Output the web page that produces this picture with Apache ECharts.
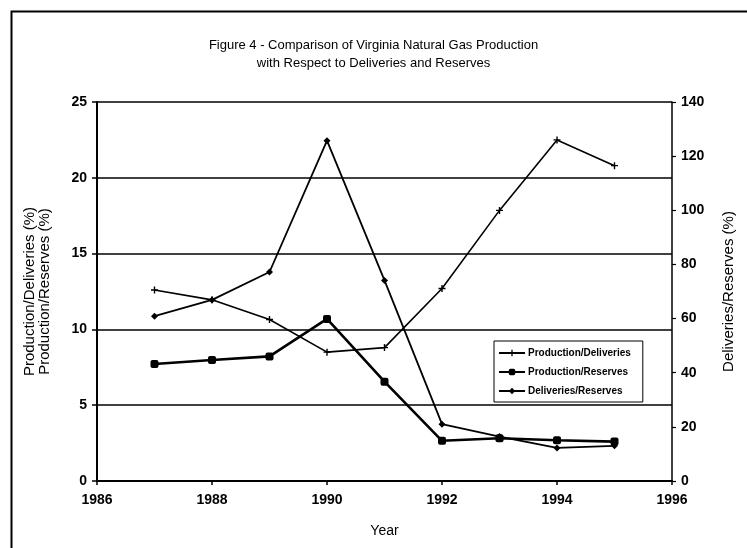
<!DOCTYPE html>
<html>
<head>
<meta charset="utf-8">
<script src="https://cdn.jsdelivr.net/npm/echarts@6/dist/echarts.min.js"></script>
<style>
  html, body { margin: 0; padding: 0; background: #fff; }
  #chart { width: 747px; height: 548px; }
</style>
</head>
<body>
<div id="chart"></div>
<script>
// years on the x axis
var years = [1987, 1988, 1989, 1990, 1991, 1992, 1993, 1994, 1995];
// left axis (%)
var prodDeliveries = [12.6, 11.95, 10.65, 8.5, 8.8, 12.7, 17.85, 22.5, 20.8];
var prodReserves = [7.72, 7.98, 8.22, 10.69, 6.55, 2.65, 2.82, 2.69, 2.6];
// right axis (%)
var delivReserves = [60.9, 66.9, 77.2, 125.7, 74.1, 21, 16.4, 12.2, 13.0];

var seriesNames = ['Production/Deliveries', 'Production/Reserves', 'Deliveries/Reserves'];

function pairs(vals) {
  return years.map(function (y, i) { return [y, vals[i]]; });
}

var font = 'Liberation Sans, Arial, sans-serif';
var plus = 'path://M4,0H6V4H10V6H6V10H4V6H0V4H4Z';

var chart = echarts.init(document.getElementById('chart'));
chart.setOption({
  backgroundColor: '#fff',
  animation: false,
  textStyle: { fontFamily: font, color: '#000' },
  title: {
    text: 'Figure 4 - Comparison of Virginia Natural Gas Production\nwith Respect to Deliveries and Reserves',
    left: 'center',
    top: 31,
    textStyle: { fontFamily: font, fontSize: 13, fontWeight: 'normal', color: '#000', lineHeight: 18 }
  },
  graphic: [{
    type: 'rect',
    left: 9, top: 9,
    shape: { width: 760, height: 560 },
    style: { fill: 'none', stroke: '#000', lineWidth: 2 },
    silent: true
  }],
  legend: {
    data: seriesNames,
    orient: 'vertical',
    left: 494,
    top: 341,
    itemWidth: 26,
    itemHeight: 8,
    itemGap: 9,
    padding: [7, 12, 6, 4],
    borderColor: '#000',
    borderWidth: 1,
    borderRadius: 0,
    backgroundColor: '#fff',
    textStyle: { fontFamily: font, fontSize: 10, fontWeight: 'bold', color: '#000', padding: [0, 0, 0, -2] }
  },
  grid: { left: 97, right: 75, top: 102, bottom: 67 },
  xAxis: {
    type: 'value',
    min: 1986, max: 1996, interval: 2,
    name: 'Year',
    nameLocation: 'middle',
    nameGap: 43,
    nameTextStyle: { fontFamily: font, fontSize: 14, color: '#000' },
    axisLine: { lineStyle: { color: '#000', width: 2 } },
    axisTick: { show: true, length: 4, lineStyle: { color: '#000', width: 1.5 } },
    axisLabel: {
      fontFamily: font, fontSize: 14, fontWeight: 'bold', color: '#000', margin: 12,
      formatter: function (v) { return String(v); }
    },
    splitLine: { show: false }
  },
  yAxis: [{
    type: 'value',
    min: 0, max: 25, interval: 5,
    position: 'left',
    name: 'Production/Deliveries (%)\nProduction/Reserves (%)',
    nameLocation: 'middle',
    nameRotate: 90,
    nameGap: 45,
    nameTextStyle: { fontFamily: font, fontSize: 15, color: '#000', lineHeight: 15 },
    axisLine: { show: true, lineStyle: { color: '#000', width: 2 } },
    axisTick: { show: true, length: 5, lineStyle: { color: '#000', width: 1.5 } },
    axisLabel: { fontFamily: font, fontSize: 14, fontWeight: 'bold', color: '#000', margin: 10 },
    splitLine: { show: true, lineStyle: { color: '#000', width: 1.5 } }
  }, {
    type: 'value',
    min: 0, max: 140, interval: 20,
    position: 'right',
    name: 'Deliveries/Reserves (%)',
    nameLocation: 'middle',
    nameRotate: 90,
    nameGap: 49,
    nameTextStyle: { fontFamily: font, fontSize: 15, color: '#000' },
    axisLine: { show: true, lineStyle: { color: '#000', width: 1.5 } },
    axisTick: { show: true, length: 4, lineStyle: { color: '#000', width: 1.2 } },
    axisLabel: { fontFamily: font, fontSize: 14, fontWeight: 'bold', color: '#000', margin: 9 },
    splitLine: { show: false }
  }],
  series: [{
    name: seriesNames[0],
    type: 'line',
    yAxisIndex: 0,
    data: pairs(prodDeliveries),
    symbol: plus,
    symbolSize: 7,
    lineStyle: { color: '#000', width: 1.6 },
    itemStyle: { color: '#000' }
  }, {
    name: seriesNames[1],
    type: 'line',
    yAxisIndex: 0,
    data: pairs(prodReserves),
    symbol: 'roundRect',
    symbolSize: 8,
    lineStyle: { color: '#000', width: 2.6 },
    itemStyle: { color: '#000' }
  }, {
    name: seriesNames[2],
    type: 'line',
    yAxisIndex: 1,
    data: pairs(delivReserves),
    symbol: 'diamond',
    symbolSize: 7,
    lineStyle: { color: '#000', width: 1.8 },
    itemStyle: { color: '#000' }
  }]
});
</script>
</body>
</html>
